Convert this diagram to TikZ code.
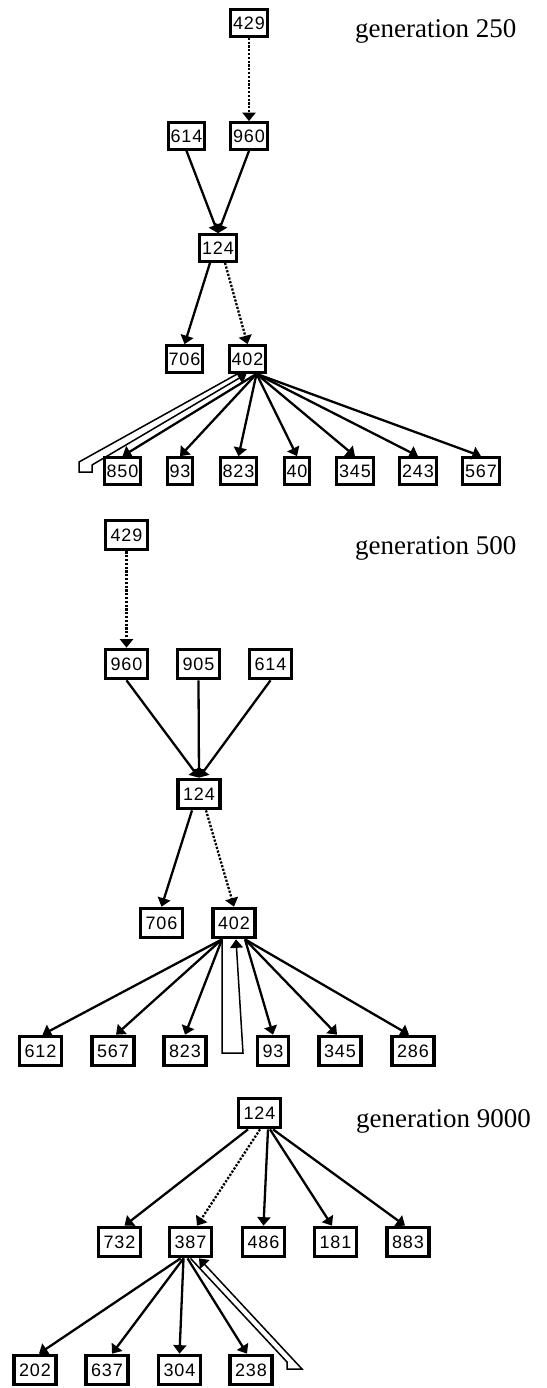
\documentclass[tikz,border=0pt]{standalone}
\usepackage{fontspec}
\setmainfont{Liberation Serif}
\newfontfamily\boxfont[LetterSpace=5]{Liberation Sans}
\usetikzlibrary{arrows.meta}
\tikzset{
  bxA/.style={draw, line width=3.2pt, inner xsep=2.4pt, inner ysep=0pt, minimum height=26.5pt, font=\boxfont\fontsize{18}{18}\selectfont},
  bxB/.style={draw, line width=3.2pt, inner xsep=5pt, inner ysep=0pt, minimum height=29.5pt, font=\boxfont\fontsize{18}{18}\selectfont},
  arr/.style={line width=2.3pt, -{Triangle[width=13pt,length=8.5pt]}},
  dotarr/.style={line width=2.3pt, dash pattern=on 2.2pt off 1.6pt, -{Triangle[width=13pt,length=8.5pt]}},
  loopln/.style={line width=1.5pt, -{Triangle[width=13pt,length=8.5pt]}},
  genlab/.style={anchor=base west, inner sep=0pt, font=\fontsize{27}{27}\selectfont}
}
\begin{document}
\begin{tikzpicture}[x=1pt,y=-1pt]
\useasboundingbox (0,0) rectangle (546,1388);
\fill[white] (0,0) rectangle (546,1388);
% ---------------- generation 250
\node[genlab] (lab1) at (355,38) {generation 250};
\node[bxA] (g1n429) at (249,23) {429};
\node[bxA] (g1n614) at (186.5,136) {614};
\node[bxA] (g1n960) at (249,136) {960};
\node[bxA] (g1n124) at (218,248) {124};
\node[bxA] (g1n706) at (184.5,359) {706};
\node[bxA] (g1n402) at (247.5,359) {402};
\node[bxA] (g1n850) at (122.5,471) {850};
\node[bxA] (g1n93) at (180,471) {93};
\node[bxA] (g1n823) at (238.5,471) {823};
\node[bxA] (g1n40) at (297,471) {40};
\node[bxA] (g1n345) at (355,471) {345};
\node[bxA] (g1n243) at (418,471) {243};
\node[bxA] (g1n567) at (481,471) {567};
\draw[dotarr] (g1n429.south) -- (g1n960.north);
\draw[arr] (g1n614.south) -- (g1n124.north);
\draw[arr] (g1n960.south) -- (g1n124.north);
\draw[arr] ([xshift=-8pt]g1n124.south) -- (g1n706.north);
\draw[dotarr] ([xshift=7pt]g1n124.south) -- (g1n402.north);
\coordinate (g1o) at ([xshift=9pt]g1n402.south);
\foreach \c in {850,93,823,40,345,243,567}
  \draw[arr] (g1o) -- (g1n\c.north);
\coordinate (g1la) at ([xshift=-10pt]g1n402.south);
\coordinate (g1l1) at (79,462);
\coordinate (g1l2) at (79,472);
\coordinate (g1l3) at (92,472);
\coordinate (g1l4) at (92,465);
\draw[loopln] (g1la) -- (g1l1) -- (g1l2) -- (g1l3) -- (g1l4) -- ([xshift=-1pt]g1n402.south);
% ---------------- generation 500
\node[genlab] (lab2) at (355,554) {generation 500};
\node[bxB] (g2n429) at (126.5,535) {429};
\node[bxB] (g2n960) at (126.5,664) {960};
\node[bxB] (g2n905) at (198.5,664) {905};
\node[bxB] (g2n614) at (270.5,664) {614};
\node[bxB] (g2n124) at (199,794) {124};
\node[bxB] (g2n706) at (161.5,923) {706};
\node[bxB] (g2n402) at (234,923) {402};
\node[bxB] (g2n612) at (40.5,1051) {612};
\node[bxB] (g2n567) at (113,1051) {567};
\node[bxB] (g2n823) at (185,1051) {823};
\node[bxB] (g2n93) at (273,1051) {93};
\node[bxB] (g2n345) at (340,1051) {345};
\node[bxB] (g2n286) at (413,1051) {286};
\draw[dotarr] (g2n429.south) -- (g2n960.north);
\draw[arr] (g2n960.south) -- (g2n124.north);
\draw[arr] (g2n905.south) -- (g2n124.north);
\draw[arr] (g2n614.south) -- (g2n124.north);
\draw[arr] ([xshift=-7pt]g2n124.south) -- (g2n706.north);
\draw[dotarr] ([xshift=7pt]g2n124.south) -- (g2n402.north);
\coordinate (g2oL) at ([xshift=-12pt]g2n402.south);
\coordinate (g2oR) at ([xshift=11pt]g2n402.south);
\draw[arr] (g2oL) -- ([xshift=2pt]g2n612.north);
\draw[arr] (g2oL) -- ([xshift=3pt]g2n567.north);
\draw[arr] (g2oL) -- (g2n823.north);
\draw[arr] (g2oR) -- (g2n93.north);
\draw[arr] (g2oR) -- ([xshift=-3pt]g2n345.north);
\draw[arr] (g2oR) -- ([xshift=-4pt]g2n286.north);
\coordinate (g2l1) at (222,1053);
\coordinate (g2l2) at (243,1053);
\draw[loopln] (g2oL) -- (g2l1) -- (g2l2) -- ([xshift=2pt]g2n402.south);
% ---------------- generation 9000
\node[genlab] (lab3) at (356,1127) {generation 9000};
\node[bxB] (g3n124) at (259.5,1113) {124};
\node[bxB] (g3n732) at (119.5,1242) {732};
\node[bxB] (g3n387) at (190.5,1242) {387};
\node[bxB] (g3n486) at (263.5,1242) {486};
\node[bxB] (g3n181) at (335.5,1242) {181};
\node[bxB] (g3n883) at (408,1242) {883};
\node[bxB] (g3n202) at (35,1370) {202};
\node[bxB] (g3n637) at (107,1370) {637};
\node[bxB] (g3n304) at (179.5,1370) {304};
\node[bxB] (g3n238) at (251,1370) {238};
\draw[arr] ([xshift=-11.5pt]g3n124.south) -- ([xshift=5pt]g3n732.north);
\draw[dotarr] ([xshift=0.5pt]g3n124.south) -- ([xshift=6.5pt]g3n387.north);
\draw[arr] ([xshift=8.5pt]g3n124.south) -- (g3n486.north);
\draw[arr] ([xshift=10.5pt]g3n124.south) -- ([xshift=-3.5pt]g3n181.north);
\draw[arr] ([xshift=13.5pt]g3n124.south) -- ([xshift=-3pt]g3n883.north);
\draw[arr] ([xshift=-10pt]g3n387.south) -- ([xshift=4pt]g3n202.north);
\draw[arr] ([xshift=-7pt]g3n387.south) -- ([xshift=5pt]g3n637.north);
\draw[arr] ([xshift=-7pt]g3n387.south) -- (g3n304.north);
\draw[arr] ([xshift=-3pt]g3n387.south) -- ([xshift=-4pt]g3n238.north);
\coordinate (g3la) at ([xshift=0pt]g3n387.south);
\coordinate (g3l1) at (287,1362);
\coordinate (g3l2) at (287,1369);
\coordinate (g3l3) at (302,1369);
\draw[loopln] (g3la) -- (g3l1) -- (g3l2) -- (g3l3) -- ([xshift=8.5pt]g3n387.south);
\end{tikzpicture}
\end{document}
